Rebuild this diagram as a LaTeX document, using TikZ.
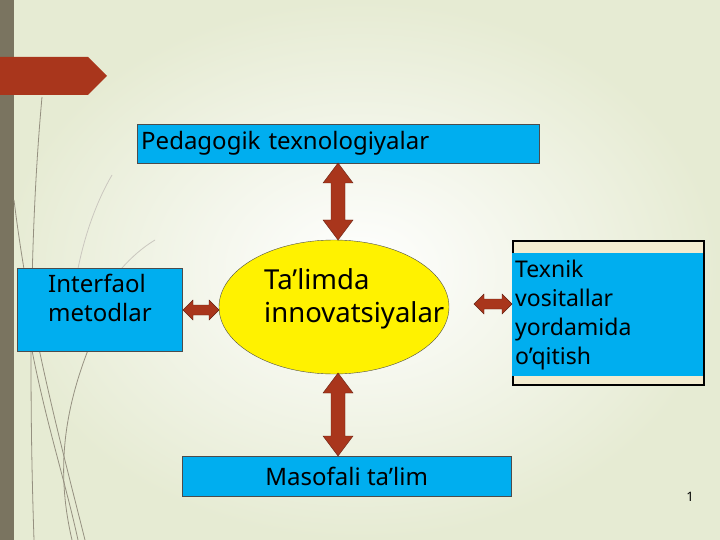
\documentclass[tikz,border=0pt]{standalone}
\usepackage{fontspec}
\setmainfont{Noto Sans}
\usetikzlibrary{shapes.geometric}
\definecolor{boxblue}{HTML}{00AEEF}
\definecolor{arrowred}{HTML}{A9361C}
\definecolor{barbrown}{HTML}{7A7460}
\definecolor{bgpale}{HTML}{E6EBD3}
\definecolor{creamfill}{HTML}{F3ECD0}
\tikzset{
  bluebox/.style={draw=black!70, fill=boxblue, font=\fontsize{24}{29}\selectfont},
  dblarrow/.style={draw=arrowred!60!black, fill=arrowred},
  grass/.style={draw=barbrown!80, line width=0.8pt}
}
% vertical double arrow: x, top y, bottom y, half shaft, half head, head length
\newcommand\vdblarrow[6]{%
  \filldraw[dblarrow] (#1,#2) -- (#1+#5,#2+#6) -- (#1+#4,#2+#6) -- (#1+#4,#3-#6)
    -- (#1+#5,#3-#6) -- (#1,#3) -- (#1-#5,#3-#6) -- (#1-#4,#3-#6) -- (#1-#4,#2+#6)
    -- (#1-#5,#2+#6) -- cycle;}
% horizontal double arrow: y, left x, right x, half shaft, half head, head length
\newcommand\hdblarrow[6]{%
  \filldraw[dblarrow] (#2,#1) -- (#2+#6,#1-#5) -- (#2+#6,#1-#4) -- (#3-#6,#1-#4)
    -- (#3-#6,#1-#5) -- (#3,#1) -- (#3-#6,#1+#5) -- (#3-#6,#1+#4) -- (#2+#6,#1+#4)
    -- (#2+#6,#1+#5) -- cycle;}
\begin{document}
\begin{tikzpicture}[x=1pt, y=-1pt]
    \useasboundingbox (0,0) rectangle (720,540);
    \shade[inner color=white, outer color=bgpale] (0,0) rectangle (720,540);

    % left bar and the red tab
    \fill[barbrown] (0,0) rectangle (14,540);
    \fill[arrowred] (0,57) -- (88,57) -- (107,76) -- (88,95) -- (0,95) -- cycle;

    % thin grass strokes
    \draw[grass] (42,97) .. controls (28,250) and (30,420) .. (34,540);
    \draw[grass] (14,200) .. controls (30,330) and (60,440) .. (85,540);
    \draw[grass] (90,345) .. controls (60,420) and (58,480) .. (72,540);
    \draw[grass, draw=barbrown!40] (112,175) .. controls (80,230) and (70,300) .. (70,345);
    \draw[grass, draw=barbrown!40] (155,240) .. controls (130,255) and (110,280) .. (100,300);
    \draw[grass] (30,340) .. controls (45,420) and (65,480) .. (78,540);

    % the centre
    \node[ellipse, draw=black!70, fill=yellow, minimum width=230, minimum height=134]
      (centre) at (334,307) {};
    \node[align=left, inner sep=0pt, anchor=west, font=\fontsize{27.5}{33}\selectfont]
      (centretext) at (264,299) {Ta’limda\\innovatsiyalar};

    % boxes round it
    \node[bluebox, minimum width=402, minimum height=39, anchor=north west,
      align=left, text width=394, inner sep=4pt] (pedtex) at (137,124) {Pedagogik texnologiyalar};
    \node[bluebox, minimum width=165, minimum height=83, anchor=north west]
      (interf) at (17,268) {};
    \node[align=left, anchor=north west, inner sep=0pt, font=\fontsize{24}{29}\selectfont]
      (interftext) at (48,274) {Interfaol\\metodlar};
    \node[bluebox, minimum width=329, minimum height=40, anchor=north west]
      (masof) at (182,456) {Masofali ta’lim};
    \node[draw=black, line width=1.5pt, fill=creamfill, minimum width=191,
      minimum height=144, anchor=north west] (texframe) at (512,240) {};
    \node[fill=boxblue, minimum width=191, minimum height=123, anchor=north west,
      align=left, text width=185, inner sep=3pt, font=\fontsize{23}{29}\selectfont] (texnik) at (512,253)
      {Texnik\\vositallar\\yordamida\\o’qitish};

    % double arrows
    \vdblarrow{338}{163}{240}{7}{15}{20}
    \vdblarrow{338}{373}{456}{7}{15}{20}
    \hdblarrow{310}{183}{219}{5}{10}{10}
    \hdblarrow{304}{474}{512}{5}{10}{10}

    \node[font=\fontsize{13}{15}\selectfont] (pagenum) at (690,497) {1};
\end{tikzpicture}
\end{document}
